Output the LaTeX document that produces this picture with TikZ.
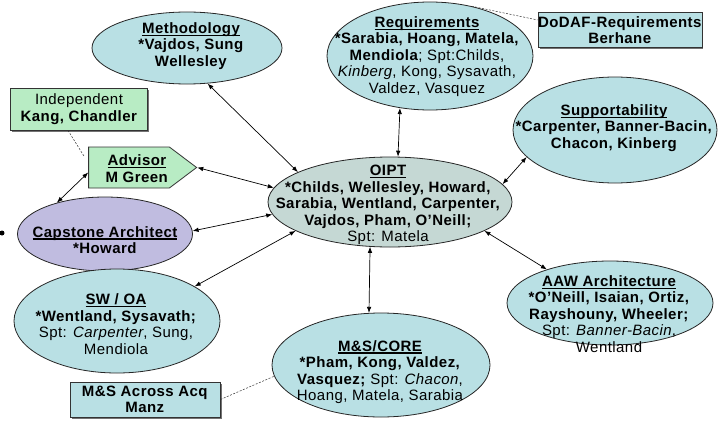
\documentclass[tikz,border=0pt]{standalone}
\usepackage{fontspec}
\setmainfont{Liberation Sans}[LetterSpace=3]
\usetikzlibrary{shapes.geometric,shapes.symbols,arrows.meta}
\definecolor{ecyan}{RGB}{185,224,228}
\definecolor{oiptc}{RGB}{197,216,212}
\definecolor{lav}{RGB}{192,188,224}
\definecolor{mint}{RGB}{184,236,196}
\newcommand\fs{\fontsize{15}{16.5}\selectfont}
\newcommand\ttl[1]{\setbox0=\hbox{\bfseries #1}\rlap{\rule[-2.6pt]{\wd0}{1.3pt}}\box0}
\tikzset{
  grp/.style={ellipse, draw=black!85, line width=0.8pt, fill=ecyan, inner sep=0},
  lbl/.style={align=center, inner sep=0, font=\fs},
  tag/.style={rectangle, draw=black!80, line width=0.8pt, fill=ecyan, inner sep=0,
    align=center, font=\fs},
  shade/.style={preaction={fill=black!55, transform canvas={xshift=1.5pt,yshift=-1.5pt}}},
  link/.style={{Latex[length=6pt,width=4.5pt]}-{Latex[length=6pt,width=4.5pt]}, line width=0.7pt},
  note/.style={line width=0.5pt, dash pattern=on 2pt off 1.5pt, black!80},
}
\begin{document}
\begin{tikzpicture}[x=1pt,y=-1pt]
\useasboundingbox (0,0) rectangle (719,420);
\fill[white] (0,0) rectangle (719,420);

% group ellipses
\node[grp, minimum width=190pt, minimum height=72pt] (meth) at (187,48) {};
\node[grp, minimum width=206pt, minimum height=108pt] (req) at (430,56) {};
\node[grp, minimum width=204pt, minimum height=106pt] (sup) at (615,130) {};
\node[grp, fill=oiptc, minimum width=244pt, minimum height=90pt] (oipt) at (390,202) {};
\node[grp, fill=lav, minimum width=175pt, minimum height=74pt] (cap) at (105,234) {};
\node[grp, minimum width=206pt, minimum height=104pt] (swoa) at (117,321) {};
\node[grp, minimum width=218pt, minimum height=104pt] (core) at (381,365) {};
\node[grp, minimum width=206pt, minimum height=84pt] (aaw) at (610,303) {};

% boxes
\node[tag, shade, minimum width=160pt, minimum height=35pt] (dod) at (620,30)
  {\textbf{DoDAF-Requirements}\\\textbf{Berhane}};
\node[tag, shade, minimum width=150pt, minimum height=35pt] (msa) at (145,399.5)
  {\textbf{M\&S Across Acq}\\\textbf{Manz}};
\node[tag, shade, fill=mint, minimum width=137pt, minimum height=42pt] (ind) at (79,109)
  {Independent\\\textbf{Kang, Chandler}};
\node[signal, signal to=east, signal pointer angle=74, draw=black!80, line width=0.8pt,
  fill=mint, minimum width=108pt, minimum height=41pt, inner sep=0] (adv) at (129,167.5) {};

% texts
\node[lbl] (methT) at (191,46) {\ttl{Methodology}\\\textbf{*Vajdos, Sung}\\\textbf{Wellesley}};
\node[lbl] (reqT) at (427,56.5) {\ttl{Requirements}\\\textbf{*Sarabia, Hoang, Matela,}\\
  \textbf{Mendiola}; Spt:Childs,\\\textit{Kinberg}, Kong, Sysavath,\\Valdez, Vasquez};
\node[lbl] (supT) at (614,128) {\ttl{Supportability}\\\textbf{*Carpenter, Banner-Bacin,}\\
  \textbf{Chacon, Kinberg}};
\node[lbl] (oiptT) at (388,205) {\ttl{OIPT}\\\textbf{*Childs, Wellesley, Howard,}\\
  \textbf{Sarabia, Wentland, Carpenter,}\\\textbf{Vajdos, Pham, O'Neill;}\\Spt: Matela};
\node[lbl] (advT) at (137,168.5) {\ttl{Advisor}\\\textbf{M Green}};
\node[lbl] (capT) at (105,240) {\ttl{Capstone Architect}\\\textbf{*Howard}};
\node[lbl] (swT) at (116,324) {\ttl{SW / OA}\\\textbf{*Wentland, Sysavath;}\\
  Spt: \textit{Carpenter}, Sung,\\Mendiola};
\node[lbl] (coreT) at (380,372) {\ttl{M\&S/CORE}\\\textbf{*Pham, Kong, Valdez,}\\
  \textbf{Vasquez;} Spt: \textit{Chacon},\\Hoang, Matela, Sarabia};
\node[lbl] (aawT) at (609,314) {\ttl{AAW Architecture}\\\textbf{*O'Neill, Isaian, Ortiz,}\\
  \textbf{Rayshouny, Wheeler;}\\Spt: \textit{Banner-Bacin},\\Wentland};

% stray bullet
\fill (2,233) circle (2.5pt);

% links to the OIPT
\draw[link] (meth.-60) -- (oipt.162);
\draw[link] (req.-120) -- (oipt.80);
\draw[link] (sup.197.6) -- (oipt.9.6);
\draw[link] (adv.east) -- (oipt.173.3);
\draw[link] (cap.2.5) -- (oipt.186.7);
\draw[link] (swoa.24) -- (oipt.197.7);
\draw[link] (core.103) -- (oipt.246);
\draw[link] (aaw.152) -- (oipt.-17);
\draw[link] (cap.147.5) -- ([yshift=-5pt]adv.west);

% dashed notes
\draw[note] ([xshift=-11pt]ind.south) -- ([xshift=-4pt,yshift=11pt]adv.west);
\draw[note] (req.50.5) -- ([yshift=10pt]dod.west);
\draw[note] (msa.east) -- (core.186.3);
\end{tikzpicture}
\end{document}
